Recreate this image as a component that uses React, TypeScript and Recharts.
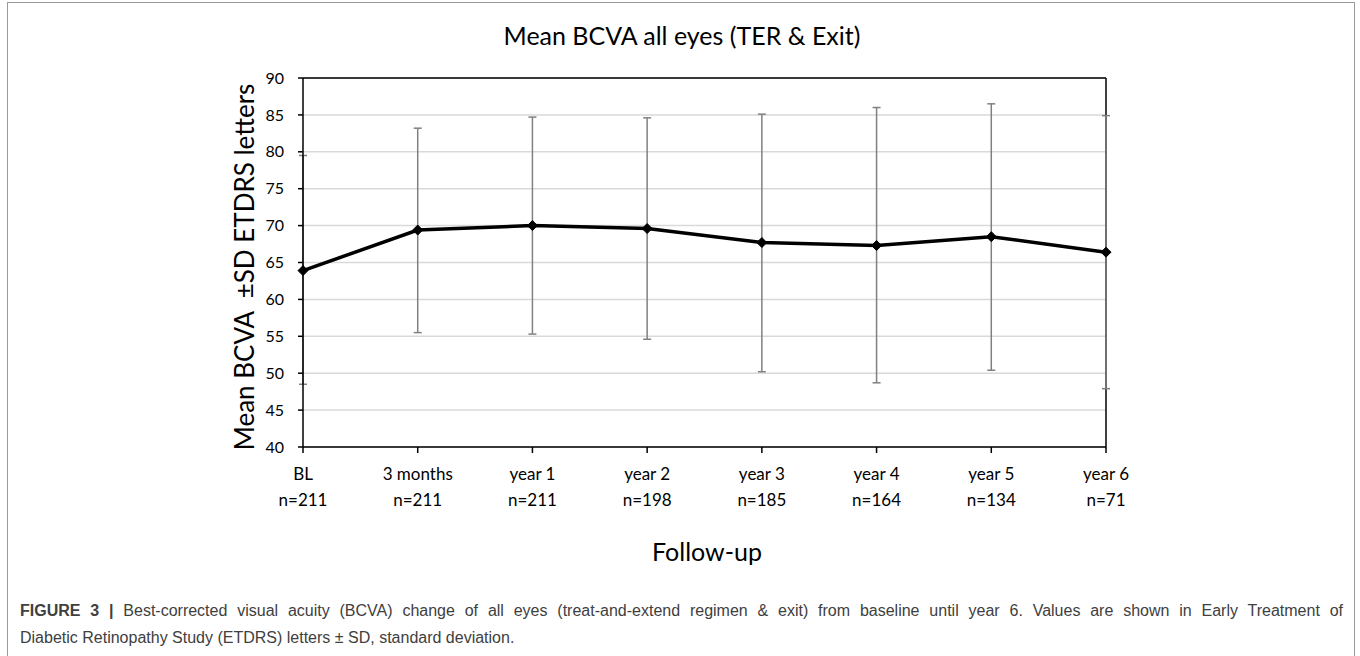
import React from "react";
import { CartesianGrid, ErrorBar, Line, LineChart, ReferenceLine, XAxis, YAxis } from "recharts";

const visits = ["BL", "3 months", "year 1", "year 2", "year 3", "year 4", "year 5", "year 6"];
const sampleSizes = [211, 211, 211, 198, 185, 164, 134, 71];
const meanBcva = [63.9, 69.4, 70.0, 69.6, 67.7, 67.3, 68.5, 66.4];
const sdUpper = [79.5, 83.2, 84.7, 84.6, 85.1, 86.0, 86.5, 84.9];
const sdLower = [48.5, 55.5, 55.3, 54.6, 50.2, 48.7, 50.4, 47.9];
const yTicks = [40, 45, 50, 55, 60, 65, 70, 75, 80, 85, 90];

const data = visits.map((visit, i) => ({
  visit,
  n: sampleSizes[i],
  mean: meanBcva[i],
  sd: [meanBcva[i] - sdLower[i], sdUpper[i] - meanBcva[i]],
}));

const FONT = "Lato, 'Open Sans', sans-serif";

function VisitTick(props: any) {
  const { x, y, payload, index } = props;
  return (
    <g transform={`translate(${x},${y})`}>
      <text textAnchor="middle" fontFamily={FONT} fontSize={17} fill="#000">
        <tspan x={0} dy={27}>{payload.value}</tspan>
        <tspan x={0} dy={26}>n={sampleSizes[index]}</tspan>
      </text>
    </g>
  );
}

function Diamond(props: any) {
  const { cx, cy } = props;
  if (cx == null || cy == null) return null;
  const r = 5;
  return (
    <polygon
      points={`${cx},${cy - r} ${cx + r},${cy} ${cx},${cy + r} ${cx - r},${cy}`}
      fill="#000"
      stroke="#000"
    />
  );
}

export default function App() {
  return (
    <div
      style={{
        position: "absolute",
        left: 0,
        top: 0,
        width: 1360,
        height: 656,
        background: "#fff",
        overflow: "hidden",
      }}
    >
      <div
        style={{
          position: "absolute",
          left: 7,
          top: 2,
          width: 1346,
          height: 670,
          border: "1px solid #9a9a9a",
        }}
      />
      <div
        style={{
          position: "absolute",
          left: 0,
          top: 20,
          width: 1364,
          textAlign: "center",
          fontFamily: FONT,
          fontSize: 25,
          color: "#000",
        }}
      >
        Mean BCVA all eyes (TER &amp; Exit)
      </div>
      <div
        style={{
          position: "absolute",
          left: 244,
          top: 267,
          transform: "translate(-50%, -50%) rotate(-90deg)",
          whiteSpace: "pre",
          fontFamily: FONT,
          fontSize: 26,
          color: "#000",
        }}
      >
        {"Mean BCVA  \u00B1SD ETDRS letters"}
      </div>
      <div
        style={{
          position: "absolute",
          left: 0,
          top: 536,
          width: 1414,
          textAlign: "center",
          fontFamily: FONT,
          fontSize: 25,
          color: "#000",
        }}
      >
        Follow-up
      </div>
      <div style={{ position: "absolute", left: 0, top: 0 }}>
        <LineChart width={1360} height={580} data={data} margin={{ top: 78, right: 254, left: 253, bottom: 73 }}>
          <CartesianGrid vertical={false} stroke="#d9d9d9" strokeWidth={1.5} />
          <XAxis
            dataKey="visit"
            height={60}
            tick={<VisitTick />}
            tickSize={6}
            tickMargin={0}
            interval={0}
            axisLine={{ stroke: "#000", strokeWidth: 1.5 }}
            tickLine={{ stroke: "#000", strokeWidth: 1.5 }}
          />
          <YAxis
            width={50}
            domain={[40, 90]}
            ticks={yTicks}
            interval={0}
            tickSize={5}
            tickMargin={14}
            axisLine={{ stroke: "#000", strokeWidth: 1.5 }}
            tickLine={{ stroke: "#000", strokeWidth: 1.5 }}
            tick={{ fill: "#000", fontFamily: FONT, fontSize: 16 }}
          />
          <ReferenceLine y={90} stroke="#000" strokeWidth={1.5} />
          <ReferenceLine x="year 6" stroke="#000" strokeWidth={1.5} />
          <Line
            type="linear"
            dataKey="mean"
            stroke="#000"
            strokeWidth={3.5}
            dot={<Diamond />}
            activeDot={false}
            isAnimationActive={false}
          >
            <ErrorBar dataKey="sd" width={4} stroke="#808080" strokeWidth={1.5} direction="y" isAnimationActive={false} />
          </Line>
        </LineChart>
      </div>
      <div
        style={{
          position: "absolute",
          left: 20,
          top: 597,
          width: 1323,
          fontFamily: "'Liberation Sans', Arial, sans-serif",
          fontSize: 16,
          color: "#404040",
          lineHeight: "27px",
        }}
      >
        <div style={{ textAlign: "justify", textAlignLast: "justify", whiteSpace: "nowrap" }}>
          <b>FIGURE 3 |</b> Best-corrected visual acuity (BCVA) change of all eyes (treat-and-extend regimen &amp; exit) from
          baseline until year 6. Values are shown in Early Treatment of
        </div>
        <div>Diabetic Retinopathy Study (ETDRS) letters ± SD, standard deviation.</div>
      </div>
    </div>
  );
}
